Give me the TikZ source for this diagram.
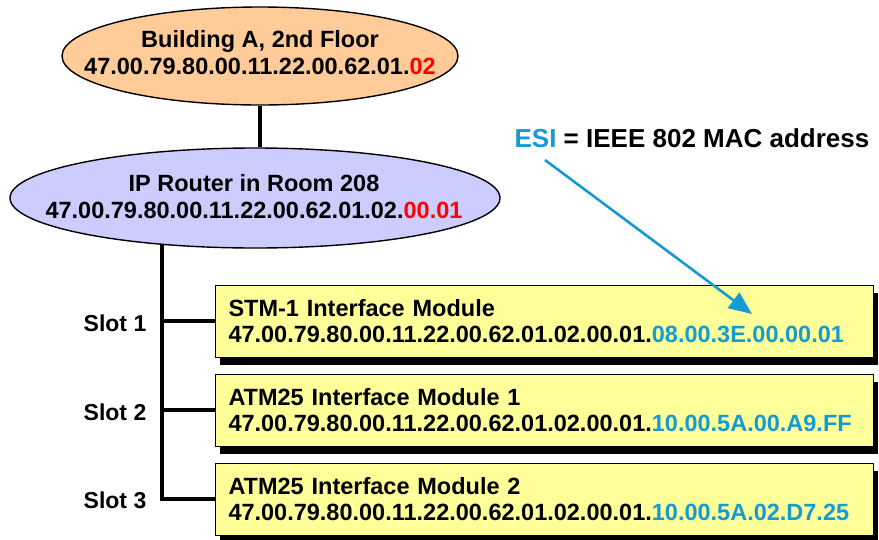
\documentclass[tikz,border=0pt]{standalone}
\usepackage{fontspec}
\setmainfont{Liberation Sans}
\usetikzlibrary{shapes.geometric,arrows.meta,shadows,backgrounds}
\definecolor{peach}{RGB}{255,204,153}
\definecolor{lav}{RGB}{204,204,255}
\definecolor{yel}{RGB}{255,255,153}
\definecolor{esiblue}{RGB}{20,155,210}
\definecolor{addrred}{RGB}{255,0,0}
\begin{document}
\begin{tikzpicture}[x=1pt,y=-1pt,
  lbl/.style={font=\fontsize{23.5}{27}\selectfont\bfseries, align=center, inner sep=0},
  ell/.style={ellipse, draw=black, line width=1.4pt, inner sep=0},
  modbox/.style={draw=black, line width=1pt, fill=yel, anchor=west,
    minimum width=658pt, minimum height=72pt, inner xsep=13pt, inner ysep=0pt,
    text width=632pt, align=left, font=\fontsize{23.5}{26}\selectfont\bfseries,
    drop shadow={shadow xshift=4pt, shadow yshift=-8pt, fill=black, opacity=1}},
  wire/.style={line width=3.2pt, draw=black},
  slot/.style={font=\fontsize{23}{26}\selectfont\bfseries, inner sep=0},
  esiarrow/.style={draw=esiblue, line width=2.6pt, -{Triangle[length=23pt,width=19pt]}}]
\useasboundingbox (0,0) rectangle (879,539);

% ellipses
\node[ell, fill=peach, minimum width=396pt, minimum height=98pt] (bld) at (260,56) {};
\node[lbl] (bldtxt) at (260,53) {Building A, 2nd Floor\\47.00.79.80.00.11.22.00.62.01.\textcolor{addrred}{02}};
\node[ell, fill=lav, minimum width=490pt, minimum height=100pt] (rtr) at (255,198) {};
\node[lbl] (rtrtxt) at (254,197) {IP Router in Room 208\\47.00.79.80.00.11.22.00.62.01.02.\textcolor{addrred}{00.01}};

% module boxes
\node[modbox] (m1) at (215,321) {STM-1 Interface Module\\47.00.79.80.00.11.22.00.62.01.02.00.01.\textcolor{esiblue}{08.00.3E.00.00.01}};
\node[modbox] (m2) at (215,410) {ATM25 Interface Module 1\\47.00.79.80.00.11.22.00.62.01.02.00.01.\textcolor{esiblue}{10.00.5A.00.A9.FF}};
\node[modbox] (m3) at (215,499) {ATM25 Interface Module 2\\47.00.79.80.00.11.22.00.62.01.02.00.01.\textcolor{esiblue}{10.00.5A.02.D7.25}};

% slot labels
\node[slot] (s1) at (115,323) {Slot 1};
\node[slot] (s2) at (115,412) {Slot 2};
\node[slot] (s3) at (115,500) {Slot 3};

% ESI label and arrow
\node[font=\fontsize{26}{28}\selectfont\bfseries, inner sep=0] (esi) at (692,138) {\textcolor{esiblue}{ESI} = IEEE 802 MAC address};
\coordinate (esistart) at (545,160);
\coordinate (esitip) at (752,314);
\draw[esiarrow] (esistart) -- (esitip);

% wires
\begin{pgfonlayer}{background}
\coordinate (t0) at (162,240);
\draw[wire] (bld.south) -- (bld.south |- rtr.north);
\draw[wire] (t0) |- (m3.west);
\draw[wire] (t0 |- m1.west) -- (m1.west);
\draw[wire] (t0 |- m2.west) -- (m2.west);
\end{pgfonlayer}
\end{tikzpicture}
\end{document}
